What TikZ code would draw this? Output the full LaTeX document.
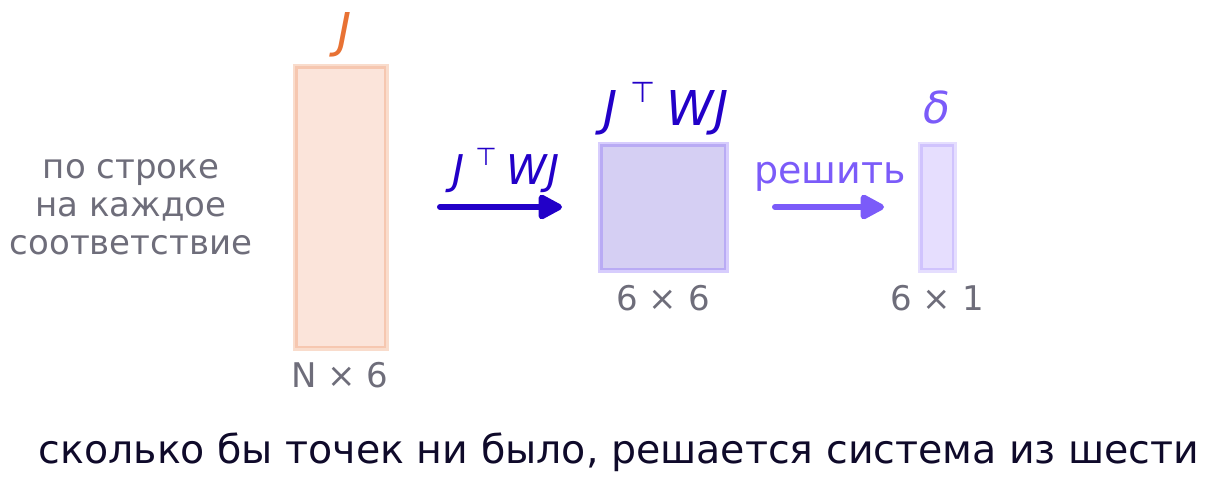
\documentclass[tikz,border=0pt]{standalone}
\usepackage{fontspec}
\setmainfont{DejaVu Sans}
\usetikzlibrary{arrows.meta}
\definecolor{cgray}{HTML}{6E6D7A}
\definecolor{corange}{HTML}{E87234}
\definecolor{jfill}{HTML}{FBE4DA}
\definecolor{cblue}{HTML}{2200C8}
\definecolor{sqfill}{HTML}{D5CFF3}
\definecolor{cpurple}{HTML}{7B5BF9}
\definecolor{dfill}{HTML}{E6DEFE}
\definecolor{cdark}{HTML}{0F0A2A}
\newcommand{\myjtwj}{{\itshape J}\kern0.26em\raisebox{0.46em}{\scalebox{0.6}{⊤}}\kern0.24em{\itshape WJ}}
\tikzset{
  lbl/.style={inner sep=0pt, anchor=base},
  matbox/.style={line width=5pt, inner sep=0pt},
  bigarrow/.style={line width=6pt, line cap=round, -{Triangle[length=27pt,width=27pt,round]}},
}
\begin{document}
\begin{tikzpicture}[x=1pt,y=-1pt]
\useasboundingbox (0,0) rectangle (1209,482);
% boxes
\node[matbox, fill=jfill, draw=corange, draw opacity=0.25, minimum width=91pt, minimum height=282pt] (jbox) at (340.5,207) {};
\node[matbox, fill=sqfill, draw=cpurple, draw opacity=0.3, minimum width=126pt, minimum height=126pt] (sq) at (663,207) {};
\node[matbox, fill=dfill, draw=cpurple, draw opacity=0.2, minimum width=34pt, minimum height=126pt] (dbox) at (937,207) {};
% titles
\node[lbl, text=corange, font=\fontsize{48}{52}\selectfont\itshape] (jt) at (345,47) {J};
\node[lbl, text=cblue, font=\fontsize{48}{52}\selectfont] (sqt) at (666,125) {\myjtwj};
\node[lbl, text=cpurple, font=\fontsize{44}{48}\selectfont\itshape] (dt) at (937,123) {δ};
% dims
\node[lbl, text=cgray, font=\fontsize{34}{38}\selectfont] (jd) at (340,387) {N × 6};
\node[lbl, text=cgray, font=\fontsize{34}{38}\selectfont] (sqd) at (663,310) {6 × 6};
\node[lbl, text=cgray, font=\fontsize{34}{38}\selectfont] (dd) at (937,310) {6 × 1};
% side text
\node[lbl, text=cgray, font=\fontsize{34}{38}\selectfont] (s1) at (131,178) {по строке};
\node[lbl, text=cgray, font=\fontsize{34}{38}\selectfont] (s2) at (131,216) {на каждое};
\node[lbl, text=cgray, font=\fontsize{34}{38}\selectfont] (s3) at (131,254) {соответствие};
% arrows
\coordinate (a1s) at (440,207);
\coordinate (a1e) at (562,207);
\coordinate (a2s) at (775,207);
\coordinate (a2e) at (884,207);
\draw[bigarrow, cblue] (a1s) -- (a1e);
\draw[bigarrow, cpurple] (a2s) -- (a2e);
\node[lbl, text=cblue, font=\fontsize{41}{45}\selectfont] (a1l) at (506,184) {\myjtwj};
\node[lbl, text=cpurple, font=\fontsize{38}{42}\selectfont] (a2l) at (830,183) {решить};
% bottom
\node[lbl, text=cdark, font=\fontsize{39.5}{44}\selectfont] (bt) at (619,463) {сколько бы точек ни было, решается система из шести};
\end{tikzpicture}
\end{document}
